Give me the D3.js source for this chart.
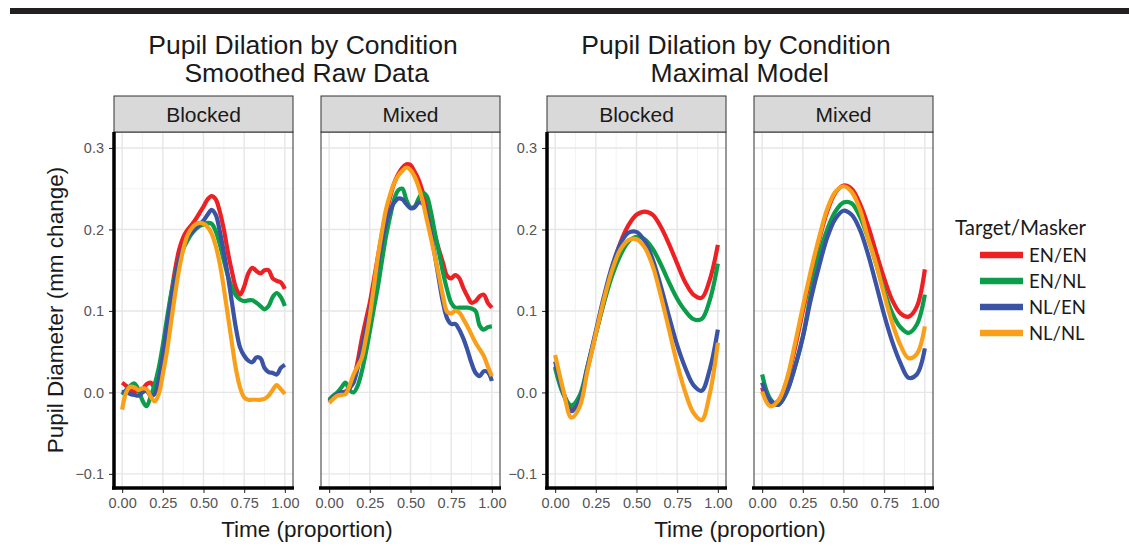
<!DOCTYPE html>
<html>
<head>
<meta charset="utf-8">
<script src="https://cdn.jsdelivr.net/npm/d3@7"></script>
<style>
  html, body { margin: 0; padding: 0; background: #fff; }
  svg { display: block; }
</style>
</head>
<body>
<svg id="chart" width="1129" height="552"></svg>
<script>
// ---- data ----
const conditions = ["EN/EN", "EN/NL", "NL/EN", "NL/NL"];
const conditionColors = ["#ED2024", "#0B9D4A", "#3A53A4", "#F9A01B"];
const facets = ["Blocked", "Mixed"];
const xTicks = [0, 0.25, 0.5, 0.75, 1];
const yTicks = [-0.1, 0, 0.1, 0.2, 0.3];

// smoothed raw traces, sampled every 0.025 of the trial
const rawTime = d3.range(41).map(i => i / 40);
const rawBlockedENEN = [0.012,0.008,0.003,0.001,0.002,0.004,0.010,0.012,0.006,0.020,0.045,0.080,0.118,0.150,0.175,0.190,0.199,0.205,0.212,0.220,0.228,0.237,0.241,0.237,0.222,0.200,0.172,0.148,0.128,0.120,0.130,0.146,0.153,0.149,0.146,0.150,0.150,0.140,0.137,0.135,0.127];
const rawBlockedENNL = [-0.003,0.003,0.008,0.011,0.004,-0.010,-0.017,-0.005,0.010,0.030,0.058,0.090,0.120,0.143,0.162,0.176,0.186,0.194,0.200,0.204,0.206,0.208,0.207,0.198,0.182,0.162,0.143,0.128,0.119,0.114,0.112,0.113,0.113,0.110,0.106,0.102,0.106,0.117,0.122,0.117,0.106];
const rawBlockedNLEN = [0.000,0.001,-0.002,-0.003,-0.004,0.000,0.002,-0.004,-0.002,0.015,0.045,0.080,0.113,0.140,0.162,0.178,0.190,0.196,0.201,0.206,0.211,0.218,0.224,0.218,0.198,0.172,0.143,0.110,0.078,0.055,0.045,0.039,0.037,0.043,0.042,0.030,0.025,0.024,0.022,0.030,0.034];
const rawBlockedNLNL = [-0.021,0.000,0.007,0.006,0.003,0.005,0.004,-0.005,-0.011,-0.002,0.022,0.050,0.085,0.120,0.151,0.175,0.192,0.201,0.206,0.208,0.207,0.203,0.195,0.180,0.158,0.128,0.094,0.060,0.028,0.006,-0.006,-0.009,-0.009,-0.009,-0.009,-0.008,-0.004,0.003,0.009,0.004,-0.002];
const rawMixedENEN = [-0.011,-0.006,-0.002,0.000,0.001,0.006,0.016,0.038,0.065,0.088,0.110,0.138,0.167,0.195,0.220,0.240,0.257,0.268,0.276,0.280,0.279,0.271,0.261,0.246,0.229,0.210,0.192,0.175,0.159,0.143,0.140,0.144,0.140,0.128,0.118,0.110,0.112,0.118,0.120,0.110,0.104];
const rawMixedENNL = [-0.009,-0.004,0.000,0.006,0.012,0.003,0.000,0.008,0.025,0.048,0.075,0.103,0.130,0.162,0.192,0.216,0.237,0.248,0.250,0.236,0.227,0.228,0.238,0.245,0.241,0.222,0.196,0.172,0.147,0.126,0.110,0.104,0.104,0.104,0.104,0.103,0.100,0.082,0.077,0.080,0.081];
const rawMixedNLEN = [-0.011,-0.006,-0.002,0.000,0.000,0.005,0.012,0.030,0.053,0.077,0.100,0.130,0.159,0.185,0.208,0.223,0.233,0.238,0.237,0.231,0.226,0.227,0.233,0.232,0.218,0.195,0.168,0.138,0.110,0.091,0.084,0.084,0.077,0.066,0.052,0.036,0.024,0.020,0.026,0.025,0.014];
const rawMixedNLNL = [-0.013,-0.008,-0.004,-0.003,-0.002,0.008,0.022,0.032,0.042,0.065,0.094,0.130,0.167,0.198,0.225,0.243,0.257,0.266,0.272,0.276,0.273,0.265,0.252,0.235,0.212,0.190,0.167,0.143,0.118,0.099,0.097,0.100,0.098,0.090,0.081,0.071,0.061,0.053,0.045,0.032,0.020];

// maximal-model fitted curves, sampled every 0.05 of the trial
const modelTime = d3.range(21).map(i => i / 20);
const modelBlockedENEN = [0.032,0.000,-0.020,-0.008,0.030,0.072,0.112,0.150,0.183,0.205,0.218,0.222,0.218,0.203,0.182,0.158,0.135,0.120,0.116,0.138,0.181];
const modelBlockedENNL = [0.030,-0.002,-0.016,-0.004,0.033,0.072,0.110,0.143,0.168,0.185,0.191,0.188,0.176,0.157,0.135,0.115,0.100,0.090,0.090,0.113,0.158];
const modelBlockedNLEN = [0.038,0.000,-0.023,-0.010,0.032,0.075,0.118,0.155,0.182,0.196,0.197,0.186,0.163,0.130,0.093,0.058,0.030,0.009,0.002,0.028,0.077];
const modelBlockedNLNL = [0.046,0.003,-0.031,-0.018,0.028,0.072,0.114,0.150,0.175,0.187,0.188,0.178,0.155,0.118,0.077,0.035,0.000,-0.025,-0.034,-0.002,0.061];
const modelMixedENEN = [0.006,-0.015,-0.010,0.013,0.053,0.100,0.145,0.187,0.222,0.245,0.254,0.250,0.232,0.205,0.172,0.140,0.113,0.097,0.093,0.105,0.151];
const modelMixedENNL = [0.022,-0.008,-0.015,0.000,0.030,0.068,0.122,0.168,0.200,0.222,0.233,0.232,0.216,0.190,0.158,0.125,0.097,0.080,0.073,0.083,0.120];
const modelMixedNLEN = [0.012,-0.010,-0.015,0.000,0.030,0.068,0.115,0.155,0.190,0.213,0.223,0.218,0.200,0.170,0.133,0.095,0.062,0.036,0.018,0.022,0.054];
const modelMixedNLNL = [0.001,-0.017,-0.010,0.015,0.058,0.105,0.150,0.190,0.225,0.246,0.253,0.246,0.225,0.190,0.158,0.120,0.085,0.058,0.042,0.047,0.081];

// ---- layout ----
const W = 1129, H = 552;
const panelTop = 132, panelBottom = 488, panelW = 179;
const stripTop = 96;
const groups = [
  {
    title: ["Pupil Dilation by Condition", " Smoothed Raw Data"],
    lefts: [114, 321],
    time: rawTime,
    series: [
      [rawBlockedENEN, rawBlockedENNL, rawBlockedNLEN, rawBlockedNLNL],
      [rawMixedENEN, rawMixedENNL, rawMixedNLEN, rawMixedNLNL]
    ]
  },
  {
    title: ["Pupil Dilation by Condition", " Maximal Model"],
    lefts: [547, 754],
    time: modelTime,
    series: [
      [modelBlockedENEN, modelBlockedENNL, modelBlockedNLEN, modelBlockedNLNL],
      [modelMixedENEN, modelMixedENNL, modelMixedNLEN, modelMixedNLNL]
    ]
  }
];

const FONT = "'Liberation Sans', Arial, Helvetica, sans-serif";
const svg = d3.select("#chart");

// page rule across the top
svg.append("rect").attr("x", 10).attr("y", 8).attr("width", W - 10).attr("height", 6).attr("fill", "#231f20");

const y = d3.scaleLinear().domain([-0.1173, 0.3196]).range([panelBottom, panelTop]);
const yMinor = [-0.05, 0.05, 0.15, 0.25];
const xMinor = [0.125, 0.375, 0.625, 0.875];

groups.forEach(g => {
  const gLeft = g.lefts[0], gRight = g.lefts[1] + panelW;
  const cx = (gLeft + gRight) / 2;

  // two-line title
  const t = svg.append("text")
    .attr("font-family", FONT).attr("font-size", 26.5).attr("fill", "#1a1a1a")
    .attr("text-anchor", "middle").attr("xml:space", "preserve");
  t.append("tspan").attr("x", cx - 4).attr("y", 54).text(g.title[0]);
  t.append("tspan").attr("x", cx - 4).attr("y", 82).text(g.title[1]);

  g.lefts.forEach((left, fi) => {
    const x = d3.scaleLinear().domain([-0.05, 1.05]).range([left, left + panelW]);
    const p = svg.append("g");

    // grid
    p.selectAll(".gx-minor").data(xMinor).join("line")
      .attr("x1", d => x(d)).attr("x2", d => x(d)).attr("y1", panelTop).attr("y2", panelBottom)
      .attr("stroke", "#f0f0f0").attr("stroke-width", 0.8);
    p.selectAll(".gy-minor").data(yMinor).join("line")
      .attr("y1", d => y(d)).attr("y2", d => y(d)).attr("x1", left).attr("x2", left + panelW)
      .attr("stroke", "#f0f0f0").attr("stroke-width", 0.8);
    p.selectAll(".gx").data(xTicks).join("line")
      .attr("x1", d => x(d)).attr("x2", d => x(d)).attr("y1", panelTop).attr("y2", panelBottom)
      .attr("stroke", "#e6e6e6").attr("stroke-width", 1.4);
    p.selectAll(".gy").data(yTicks).join("line")
      .attr("y1", d => y(d)).attr("y2", d => y(d)).attr("x1", left).attr("x2", left + panelW)
      .attr("stroke", "#e6e6e6").attr("stroke-width", 1.4);

    // curves
    const line = d3.line()
      .x((d, i) => x(g.time[i]))
      .y(d => y(d))
      .curve(d3.curveCatmullRom.alpha(0.5));
    g.series[fi].forEach((vals, si) => {
      p.append("path").datum(vals)
        .attr("d", line)
        .attr("fill", "none")
        .attr("stroke", conditionColors[si])
        .attr("stroke-width", 4.2)
        .attr("stroke-linejoin", "round");
    });

    // panel border
    p.append("rect").attr("x", left).attr("y", panelTop).attr("width", panelW).attr("height", panelBottom - panelTop)
      .attr("fill", "none").attr("stroke", "#333").attr("stroke-width", 1);

    // strip
    p.append("rect").attr("x", left).attr("y", stripTop).attr("width", panelW).attr("height", panelTop - stripTop)
      .attr("fill", "#d9d9d9").attr("stroke", "#333").attr("stroke-width", 1);
    p.append("text").attr("x", left + panelW / 2).attr("y", stripTop + 26)
      .attr("font-family", FONT).attr("font-size", 21).attr("fill", "#1a1a1a")
      .attr("text-anchor", "middle").text(facets[fi]);

    // x axis
    const xAxis = d3.axisBottom(x).tickValues(xTicks).tickFormat(d3.format(".2f")).tickSize(5).tickPadding(5);
    const ax = p.append("g").attr("transform", `translate(0,${panelBottom})`).call(xAxis);
    ax.select(".domain").remove();
    ax.selectAll(".tick line").attr("stroke", "#333").attr("stroke-width", 1.1);
    ax.selectAll(".tick text").attr("font-family", FONT).attr("font-size", 14.5).attr("fill", "#555");
    p.append("line").attr("x1", left - 2).attr("x2", left + panelW + 1).attr("y1", panelBottom).attr("y2", panelBottom)
      .attr("stroke", "#000").attr("stroke-width", 3.5);

    // y axis on the first facet only
    if (fi === 0) {
      const yAxis = d3.axisLeft(y).tickValues(yTicks).tickFormat(d3.format(".1f")).tickSize(5).tickPadding(5);
      const ay = p.append("g").attr("transform", `translate(${left},0)`).call(yAxis);
      ay.select(".domain").remove();
      ay.selectAll(".tick line").attr("stroke", "#333").attr("stroke-width", 1.1);
      ay.selectAll(".tick text").attr("font-family", FONT).attr("font-size", 14.5).attr("fill", "#555");
      p.append("line").attr("x1", left).attr("x2", left).attr("y1", panelTop).attr("y2", panelBottom + 1.5)
        .attr("stroke", "#000").attr("stroke-width", 3.5);
    }
  });

  // x axis title
  svg.append("text").attr("x", cx).attr("y", 537)
    .attr("font-family", FONT).attr("font-size", 22.5).attr("fill", "#1a1a1a")
    .attr("text-anchor", "middle").text("Time (proportion)");
});

// y axis title
svg.append("text")
  .attr("transform", `translate(63,${(panelTop + panelBottom) / 2}) rotate(-90)`)
  .attr("font-family", FONT).attr("font-size", 22.5).attr("fill", "#1a1a1a")
  .attr("text-anchor", "middle").text("Pupil Diameter (mm change)");

// legend
const LFONT = "Lato, 'Open Sans', sans-serif";
const legend = svg.append("g").attr("transform", "translate(955,0)");
legend.append("text").attr("x", 0).attr("y", 235)
  .attr("font-family", LFONT).attr("font-size", 20.5).attr("fill", "#1a1a1a").text("Target/Masker");
const ly = d3.scalePoint().domain(conditions).range([255, 333]);
conditions.forEach((c, i) => {
  legend.append("line").attr("x1", 25).attr("x2", 68).attr("y1", ly(c)).attr("y2", ly(c))
    .attr("stroke", conditionColors[i]).attr("stroke-width", 6.5);
  legend.append("text").attr("x", 74).attr("y", ly(c) + 6.5)
    .attr("font-family", LFONT).attr("font-size", 18.5).attr("fill", "#1a1a1a").text(c);
});
</script>
</body>
</html>
